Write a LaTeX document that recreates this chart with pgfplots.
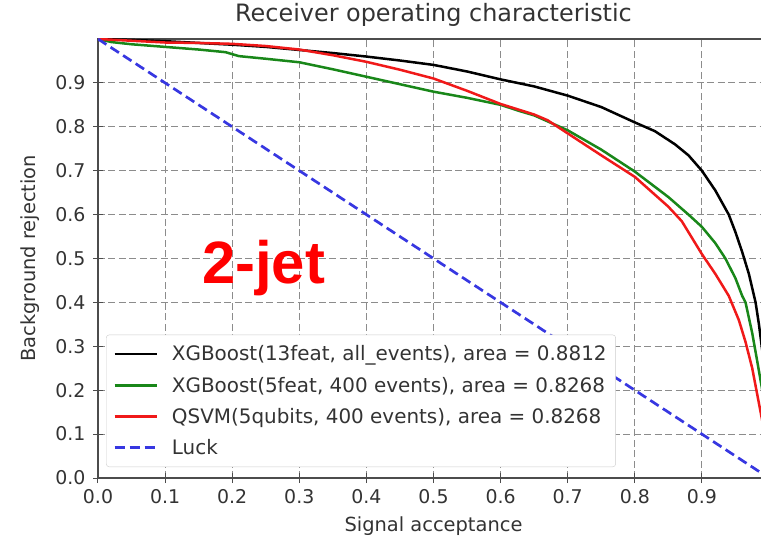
\documentclass[border=0pt]{standalone}
\usepackage{pgfplots}
\pgfplotsset{compat=1.18}
\usepackage{fontspec}
\setmainfont{DejaVu Sans}
\newfontfamily\jetfont{Liberation Sans}
\definecolor{mplgreen}{RGB}{25,135,25}
\definecolor{mplred}{RGB}{240,25,25}
\definecolor{luckblue}{RGB}{55,55,225}

% ROC curves
\pgfplotstableread{
x y
0 1
0.05 0.998
0.1 0.995
0.15 0.991
0.2 0.987
0.25 0.982
0.3 0.975
0.35 0.968
0.4 0.96
0.45 0.951
0.5 0.941
0.55 0.926
0.6 0.908
0.65 0.892
0.7 0.871
0.75 0.845
0.8 0.81
0.83 0.79
0.86 0.76
0.88 0.735
0.9 0.70
0.92 0.655
0.94 0.60
0.95 0.56
0.96 0.515
0.97 0.465
0.98 0.40
0.985 0.35
0.99 0.29
1 0
}\xgball
\pgfplotstableread{
x y
0 1
0.02 0.993
0.05 0.988
0.1 0.982
0.15 0.976
0.19 0.970
0.21 0.961
0.25 0.955
0.3 0.947
0.35 0.931
0.4 0.914
0.45 0.897
0.5 0.88
0.55 0.866
0.6 0.85
0.628 0.836
0.65 0.826
0.7 0.792
0.75 0.748
0.8 0.698
0.85 0.64
0.88 0.60
0.9 0.572
0.92 0.535
0.935 0.50
0.95 0.455
0.96 0.415
0.965 0.40
0.975 0.33
0.982 0.27
0.99 0.20
1 0
}\xgbfive
\pgfplotstableread{
x y
0 1
0.05 0.996
0.1 0.992
0.15 0.991
0.2 0.989
0.25 0.984
0.3 0.976
0.35 0.963
0.4 0.948
0.45 0.93
0.5 0.91
0.55 0.882
0.6 0.852
0.65 0.828
0.67 0.815
0.7 0.785
0.75 0.735
0.8 0.686
0.85 0.618
0.87 0.585
0.9 0.51
0.92 0.465
0.94 0.415
0.955 0.36
0.965 0.31
0.975 0.25
0.98 0.21
0.99 0.13
1 0
}\qsvm

\begin{document}
\begin{tikzpicture}
\path[use as bounding box, clip] (-98bp,-62bp) rectangle (663bp,478bp);
\begin{axis}[
  at={(0,0)}, anchor=south west,
  scale only axis, width=671bp, height=439bp,
  xmin=0, xmax=1, ymin=0, ymax=1,
  xtick={0,0.1,...,0.9}, ytick={0,0.1,...,0.9},
  xticklabels={0.0,0.1,0.2,0.3,0.4,0.5,0.6,0.7,0.8,0.9},
  yticklabels={0.0,0.1,0.2,0.3,0.4,0.5,0.6,0.7,0.8,0.9},
  xtick pos=left, ytick pos=left,
  tick align=center, major tick length=10bp,
  every tick/.style={black!70, line width=1bp},
  axis line style={black!70, line width=1.5bp},
  grid=major,
  major grid style={black!45, line width=1bp, dash pattern=on 7bp off 3.5bp},
  tick label style={font=\fontsize{19}{22}\selectfont, text=black!80},
  yticklabel style={xshift=-4bp},
  xticklabel style={yshift=-3bp},
  every axis x label/.style={at={(axis description cs:0.5,0)}, anchor=base, yshift=-53bp,
    font=\fontsize{19.5}{22}\selectfont, text=black!80},
  every axis y label/.style={at={(axis description cs:-0.0924,0.5)}, rotate=90, anchor=base,
    font=\fontsize{19.5}{22}\selectfont, text=black!80},
  title style={at={(axis description cs:0.5,1)}, anchor=base, yshift=12bp,
    font=\fontsize{24}{26}\selectfont, text=black!80},
  title={Receiver operating characteristic},
  xlabel={Signal acceptance},
  ylabel={Background rejection},
  legend style={at={(axis description cs:0.012,0.025)}, anchor=south west,
    draw=black!20, fill=white, rounded corners=3bp,
    font=\fontsize{20}{22}\selectfont, text=black!80,
    row sep=10.5bp, inner xsep=7bp, inner ysep=9bp},
  legend cell align=left,
  legend image code/.code={\draw[#1] (0bp,0bp) -- (42bp,0bp); \path (54bp,0bp);},
]
\addplot[black, line width=2.5bp] table {\xgball};
\addlegendentry{XGBoost(13feat, all\_events), area = 0.8812}
\addplot[mplgreen, line width=2.5bp] table {\xgbfive};
\addlegendentry{XGBoost(5feat, 400 events), area = 0.8268}
\addplot[mplred, line width=2.5bp] table {\qsvm};
\addlegendentry{QSVM(5qubits, 400 events), area = 0.8268}
\addplot[luckblue, line width=2.7bp, dash pattern=on 10bp off 5bp] coordinates {(0,1) (1,0)};
\addlegendentry{Luck}
\node[anchor=base west, text=red, font=\jetfont\bfseries\fontsize{60}{60}\selectfont, inner sep=0pt]
  at (axis cs:0.155,0.444) {2-jet};
\end{axis}
\end{tikzpicture}
\end{document}
